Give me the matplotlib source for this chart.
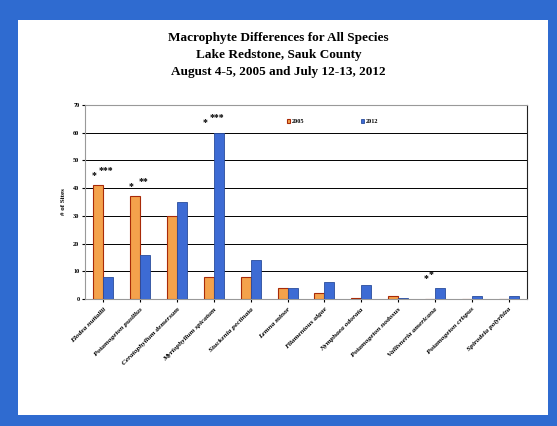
import numpy as np
import matplotlib
matplotlib.use('Agg')
import matplotlib.pyplot as plt
from matplotlib.patches import Rectangle

# species surveyed (x axis)
species = ['Elodea nuttallii', 'Potamogeton pusillus', 'Ceratophyllum demersum',
           'Myriophyllum spicatum', 'Stuckenia pectinata', 'Lemna minor',
           'Filamentous algae', 'Nymphaea odorata', 'Potamogeton nodosus',
           'Vallisneria americana', 'Potamogeton crispus', 'Spirodela polyrhiza']
# number of sites per year
sites_2005 = [41, 37, 30, 8, 8, 4, 2, 0.5, 1, 0, 0, 0]
sites_2012 = [8, 16, 35, 60, 14, 4, 6, 5, 0.5, 4, 1, 1]
# significance marks: (species index, first mark, rest)
signif = [(0, '*', '***'), (1, '*', '**'), (3, '*', '***'), (9, '*', '*')]

serif = 'Liberation Serif'

fig = plt.figure(figsize=(5.57, 4.26), dpi=100)
fig.patch.set_facecolor('#2f6bd0')
# white inner panel inside the blue frame
fig.add_artist(Rectangle((18 / 557, 11 / 426), 530 / 557, 395 / 426,
                         transform=fig.transFigure, facecolor='white',
                         edgecolor='none', zorder=0))

ax = fig.add_axes([85 / 557, 127 / 426, 442 / 557, 194 / 426])
ax.set_facecolor('white')

x = np.arange(len(species))
w = 0.27
ax.bar(x - w / 2, sites_2005, w, color='#f4a24c', edgecolor='#a82a08',
       linewidth=0.8, label='2005', zorder=3)
ax.bar(x + w / 2, sites_2012, w, color='#3d6bd4', edgecolor='#2a4c9c',
       linewidth=0.6, label='2012', zorder=3)

for i, first, rest in signif:
    top = max(sites_2005[i], sites_2012[i])
    lift = 1.5 if i == 9 else 2
    ax.text(i - 0.25, top + 3.5, first, fontsize=7, fontweight='bold',
            family=serif, ha='center', va='center')
    ax.text(i + 0.08 if i != 9 else i - 0.1, top + 3.5 + lift, rest, fontsize=7,
            fontweight='bold', family=serif, ha='center', va='center')

ax.set_xlim(-0.5, len(species) - 0.5)
ax.set_ylim(0, 70)
ax.set_yticks(np.arange(0, 71, 10))
ax.yaxis.grid(True, color='black', linewidth=0.7)
ax.set_axisbelow(True)
ax.tick_params(axis='y', length=2, labelsize=4.5, pad=2)
ax.tick_params(axis='x', length=2)
ax.set_xticks(x)
ax.set_xticklabels(species, rotation=45, ha='right', rotation_mode='anchor',
                   fontsize=5.3, fontstyle='italic', fontweight='bold', family=serif)
for lab in ax.get_yticklabels():
    lab.set_family(serif)
    lab.set_fontweight('bold')
for side in ['top', 'left', 'bottom']:
    ax.spines[side].set_color('#999999')
ax.spines['right'].set_color('#222222')

ax.set_ylabel('# of Sites', fontsize=5, fontweight='bold', family=serif, labelpad=5)

leg = ax.legend(ncol=2, loc='center', bbox_to_anchor=(0.56, 0.915), frameon=False,
                handlelength=0.5, handleheight=0.5, handletextpad=0.3,
                columnspacing=9, prop={'family': serif, 'weight': 'bold', 'size': 4.5})

fig.text(0.5, 0.925, 'Macrophyte Differences for All Species\nLake Redstone, Sauk County\n'
         'August 4-5, 2005 and July 12-13, 2012', ha='center', va='top',
         fontsize=9.5, fontweight='bold', family=serif, linespacing=1.55)

fig.savefig('out.png', dpi=100, facecolor=fig.get_facecolor())
